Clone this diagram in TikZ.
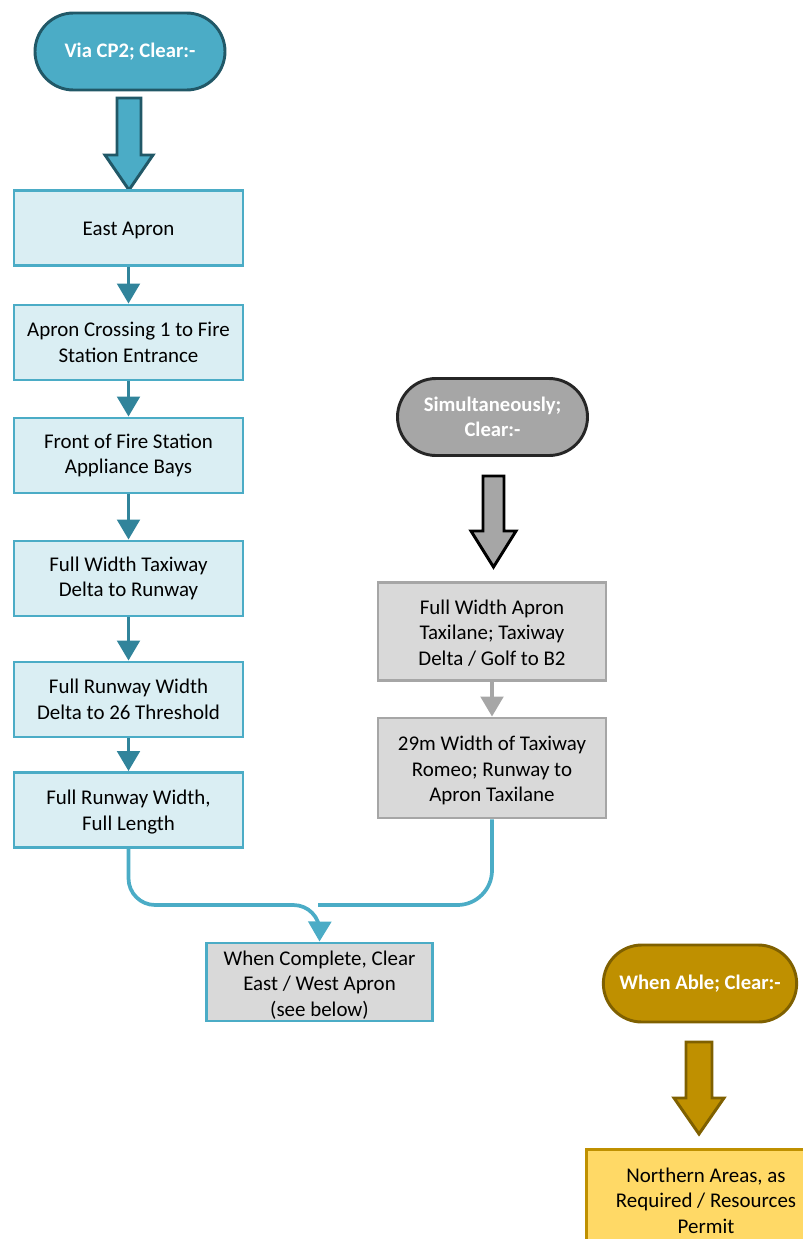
\documentclass[tikz,border=0pt]{standalone}
\usepackage{fontspec}
\setmainfont{Carlito}
\usetikzlibrary{arrows.meta,shapes.misc}
\definecolor{teal}{HTML}{4BACC6}
\definecolor{tealdark}{HTML}{215867}
\definecolor{tealmid}{HTML}{31849B}
\definecolor{teallight}{HTML}{DAEEF3}
\definecolor{grayterm}{HTML}{A6A6A6}
\definecolor{grayborder}{HTML}{262626}
\definecolor{graybox}{HTML}{D9D9D9}
\definecolor{gold}{HTML}{BF9000}
\definecolor{golddark}{HTML}{7F6000}
\definecolor{goldlight}{HTML}{FFD966}
\tikzset{
  every node/.style={font=\fontsize{15.7}{19.2}\selectfont, align=center, inner sep=0pt},
  term/.style={rounded rectangle, minimum width=142.5pt, minimum height=57.75pt, line width=2.2pt, text=white, font=\fontsize{15.5}{19.2}\selectfont\bfseries},
  bluebox/.style={rectangle, draw=teal, fill=teallight, line width=2.2pt, minimum width=171.75pt, minimum height=56.25pt},
  graybx/.style={rectangle, draw=grayterm, fill=graybox, line width=2.2pt, minimum width=171pt},
  goldbx/.style={rectangle, draw=gold, fill=goldlight, line width=2.2pt, minimum width=165pt, minimum height=75pt},
  blockarrow/.style={line width=2.2pt, line join=miter},
  conn/.style={line width=2.4pt, -{Triangle[width=17pt,length=15pt]}},
}
\begin{document}
\begin{tikzpicture}[x=0.75pt,y=-0.75pt]
\useasboundingbox (0,0) rectangle (803,1239);
% left column
\node[term, draw=tealdark, fill=teal] (t1) at (130,51.5) {Via CP2; Clear:-};
\draw[blockarrow, draw=tealdark, fill=teal] (117,98) -- (141,98) -- (141,155) -- (153,155) -- (129,190) -- (105,155) -- (117,155) -- cycle;
\node[bluebox] (b1) at (128.5,228) {};
\node at (128.5,230.5) {East Apron};
\node[bluebox] (b2) at (128.5,342.5) {Apron Crossing 1 to Fire\\Station Entrance};
\node[bluebox] (b3) at (128.5,455.5) {Front of Fire Station\\Appliance Bays};
\node[bluebox] (b4) at (128.5,578.5) {Full Width Taxiway\\Delta to Runway};
\node[bluebox] (b5) at (128.5,699.5) {Full Runway Width\\Delta to 26 Threshold};
\node[bluebox] (b6) at (128.5,810) {};
\node at (128.5,812) {Full Runway Width,\\Full Length};
\foreach \a/\b in {b1/b2,b2/b3,b3/b4,b4/b5,b5/b6}
  \draw[conn, draw=tealmid] (\a.south) -- (\b.north);
% middle column
\node[term, draw=grayborder, fill=grayterm] (t2) at (492.5,417) {Simultaneously;\\Clear:-};
\draw[blockarrow, draw=black, fill=grayterm] (483,476) -- (504,476) -- (504,531) -- (516,531) -- (493.5,567) -- (471,531) -- (483,531) -- cycle;
\node[graybx, minimum height=73.5pt] (g1) at (492,631.5) {};
\node at (492,633) {Full Width Apron\\Taxilane; Taxiway\\Delta / Golf to B2};
\node[graybx, minimum height=75pt] (g2) at (492,768) {};
\node at (492,770.5) {29m Width of Taxiway\\Romeo; Runway to\\Apron Taxilane};
\draw[conn, draw=grayterm] (g1.south) -- (g2.north);
% merge
\node[rectangle, draw=teal, fill=graybox, line width=2.2pt, minimum width=170pt, minimum height=58.5pt] (c) at (319.5,982) {};
\node at (319.5,985) {When Complete, Clear\\East / West Apron\\(see below)};
\coordinate (m1) at (128.5,905);
\coordinate (m2) at (320,905);
\coordinate (m3) at (492,905);
\coordinate (m4) at (318,905);
\draw[conn, line width=2.8pt, draw=teal, rounded corners=20pt] (b6.south) -- (m1) -- (m2) -- (c.north);
\draw[line width=2.8pt, draw=teal, rounded corners=26pt] (g2.south) -- (m3) -- (m4);
% right column
\node[term, draw=golddark, fill=gold, minimum width=145pt] (t3) at (700,983.5) {When Able; Clear:-};
\draw[blockarrow, draw=golddark, fill=gold] (686,1042) -- (712,1042) -- (712,1098) -- (724,1098) -- (699,1134) -- (674,1098) -- (686,1098) -- cycle;
\node[goldbx, anchor=north west] (n1) at (585,1148) {};
\node at (706,1200.5) {Northern Areas, as\\Required / Resources\\Permit};
\end{tikzpicture}
\end{document}
